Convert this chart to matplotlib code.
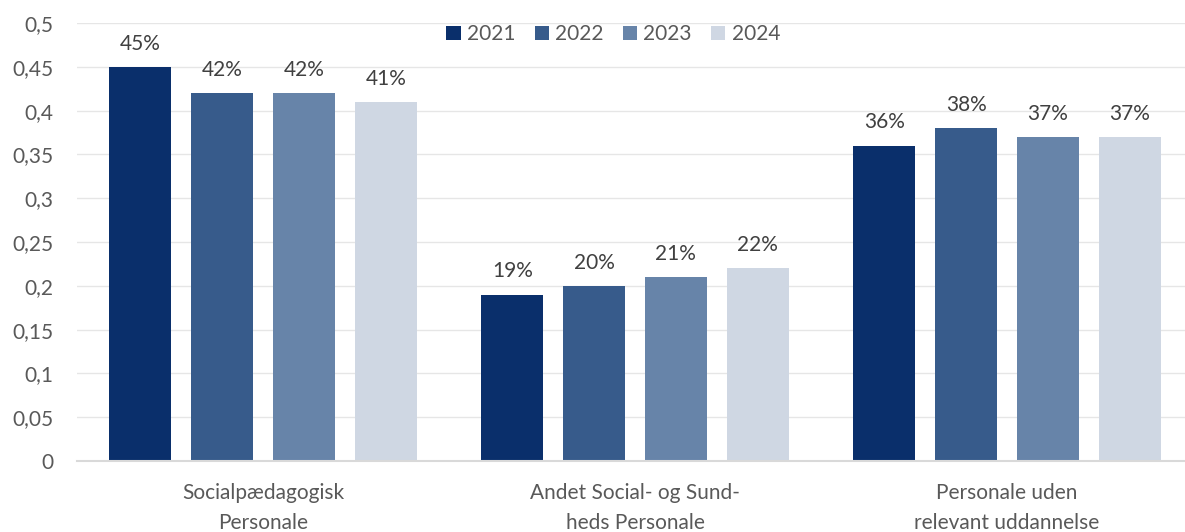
import matplotlib
matplotlib.use("Agg")
import matplotlib.pyplot as plt
import numpy as np

categories = ["Socialpædagogisk\nPersonale", "Andet Social- og Sund-\nheds Personale", "Personale uden\nrelevant uddannelse"]
years = ["2021", "2022", "2023", "2024"]
values = {
    "2021": [0.45, 0.19, 0.36],
    "2022": [0.42, 0.20, 0.38],
    "2023": [0.42, 0.21, 0.37],
    "2024": [0.41, 0.22, 0.37],
}
colors = ["#0A2F6B", "#375B8B", "#6784A9", "#CFD7E3"]
yticks = [0, 0.05, 0.1, 0.15, 0.2, 0.25, 0.3, 0.35, 0.4, 0.45, 0.5]
ytick_labels = ["0", "0,05", "0,1", "0,15", "0,2", "0,25", "0,3", "0,35", "0,4", "0,45", "0,5"]

plt.rcParams['font.family'] = ['Lato', 'DejaVu Sans']
txt = "#595959"
fs = 15

fig = plt.figure(figsize=(11.85, 5.32), dpi=100)
ax = fig.add_axes([77/1185, 71/532, 1 - 77/1185, (461-23)/532])

x = np.arange(len(categories))
pitch = 0.22
width = 0.167
for i, y in enumerate(years):
    pos = x + (i - 1.5) * pitch
    bars = ax.bar(pos, values[y], width, color=colors[i], label=y, zorder=3)
    for b, v in zip(bars, values[y]):
        ax.text(b.get_x() + b.get_width()/2, v + 0.015, f"{int(round(v*100))}%",
                ha="center", va="bottom", fontsize=fs, color="#404040")

ax.set_xlim(-0.5, 2 + (1185-1007)/372)
ax.set_ylim(0, 0.5)
ax.set_yticks(yticks)
ax.set_yticklabels(ytick_labels, fontsize=fs, color=txt)
ax.set_xticks(x)
ax.set_xticklabels(categories, fontsize=fs, color=txt, linespacing=1.6)
ax.tick_params(axis="both", length=0)
ax.tick_params(axis="x", pad=16)
ax.tick_params(axis="y", pad=17)
ax.grid(axis="y", color="#E6E6E6", linewidth=1, zorder=0)
for s in ["top", "right", "left"]:
    ax.spines[s].set_visible(False)
ax.spines["bottom"].set_color("#D9D9D9")
ax.spines["bottom"].set_linewidth(1.5)
ax.spines["bottom"].set_zorder(4)

leg = ax.legend(loc="upper center", bbox_to_anchor=(0.484, 1.04), ncol=4, frameon=False,
                fontsize=fs, handlelength=0.7, handleheight=0.7, handletextpad=0.3,
                columnspacing=0.9)
for t in leg.get_texts():
    t.set_color(txt)

fig.savefig("out.png", dpi=100)
